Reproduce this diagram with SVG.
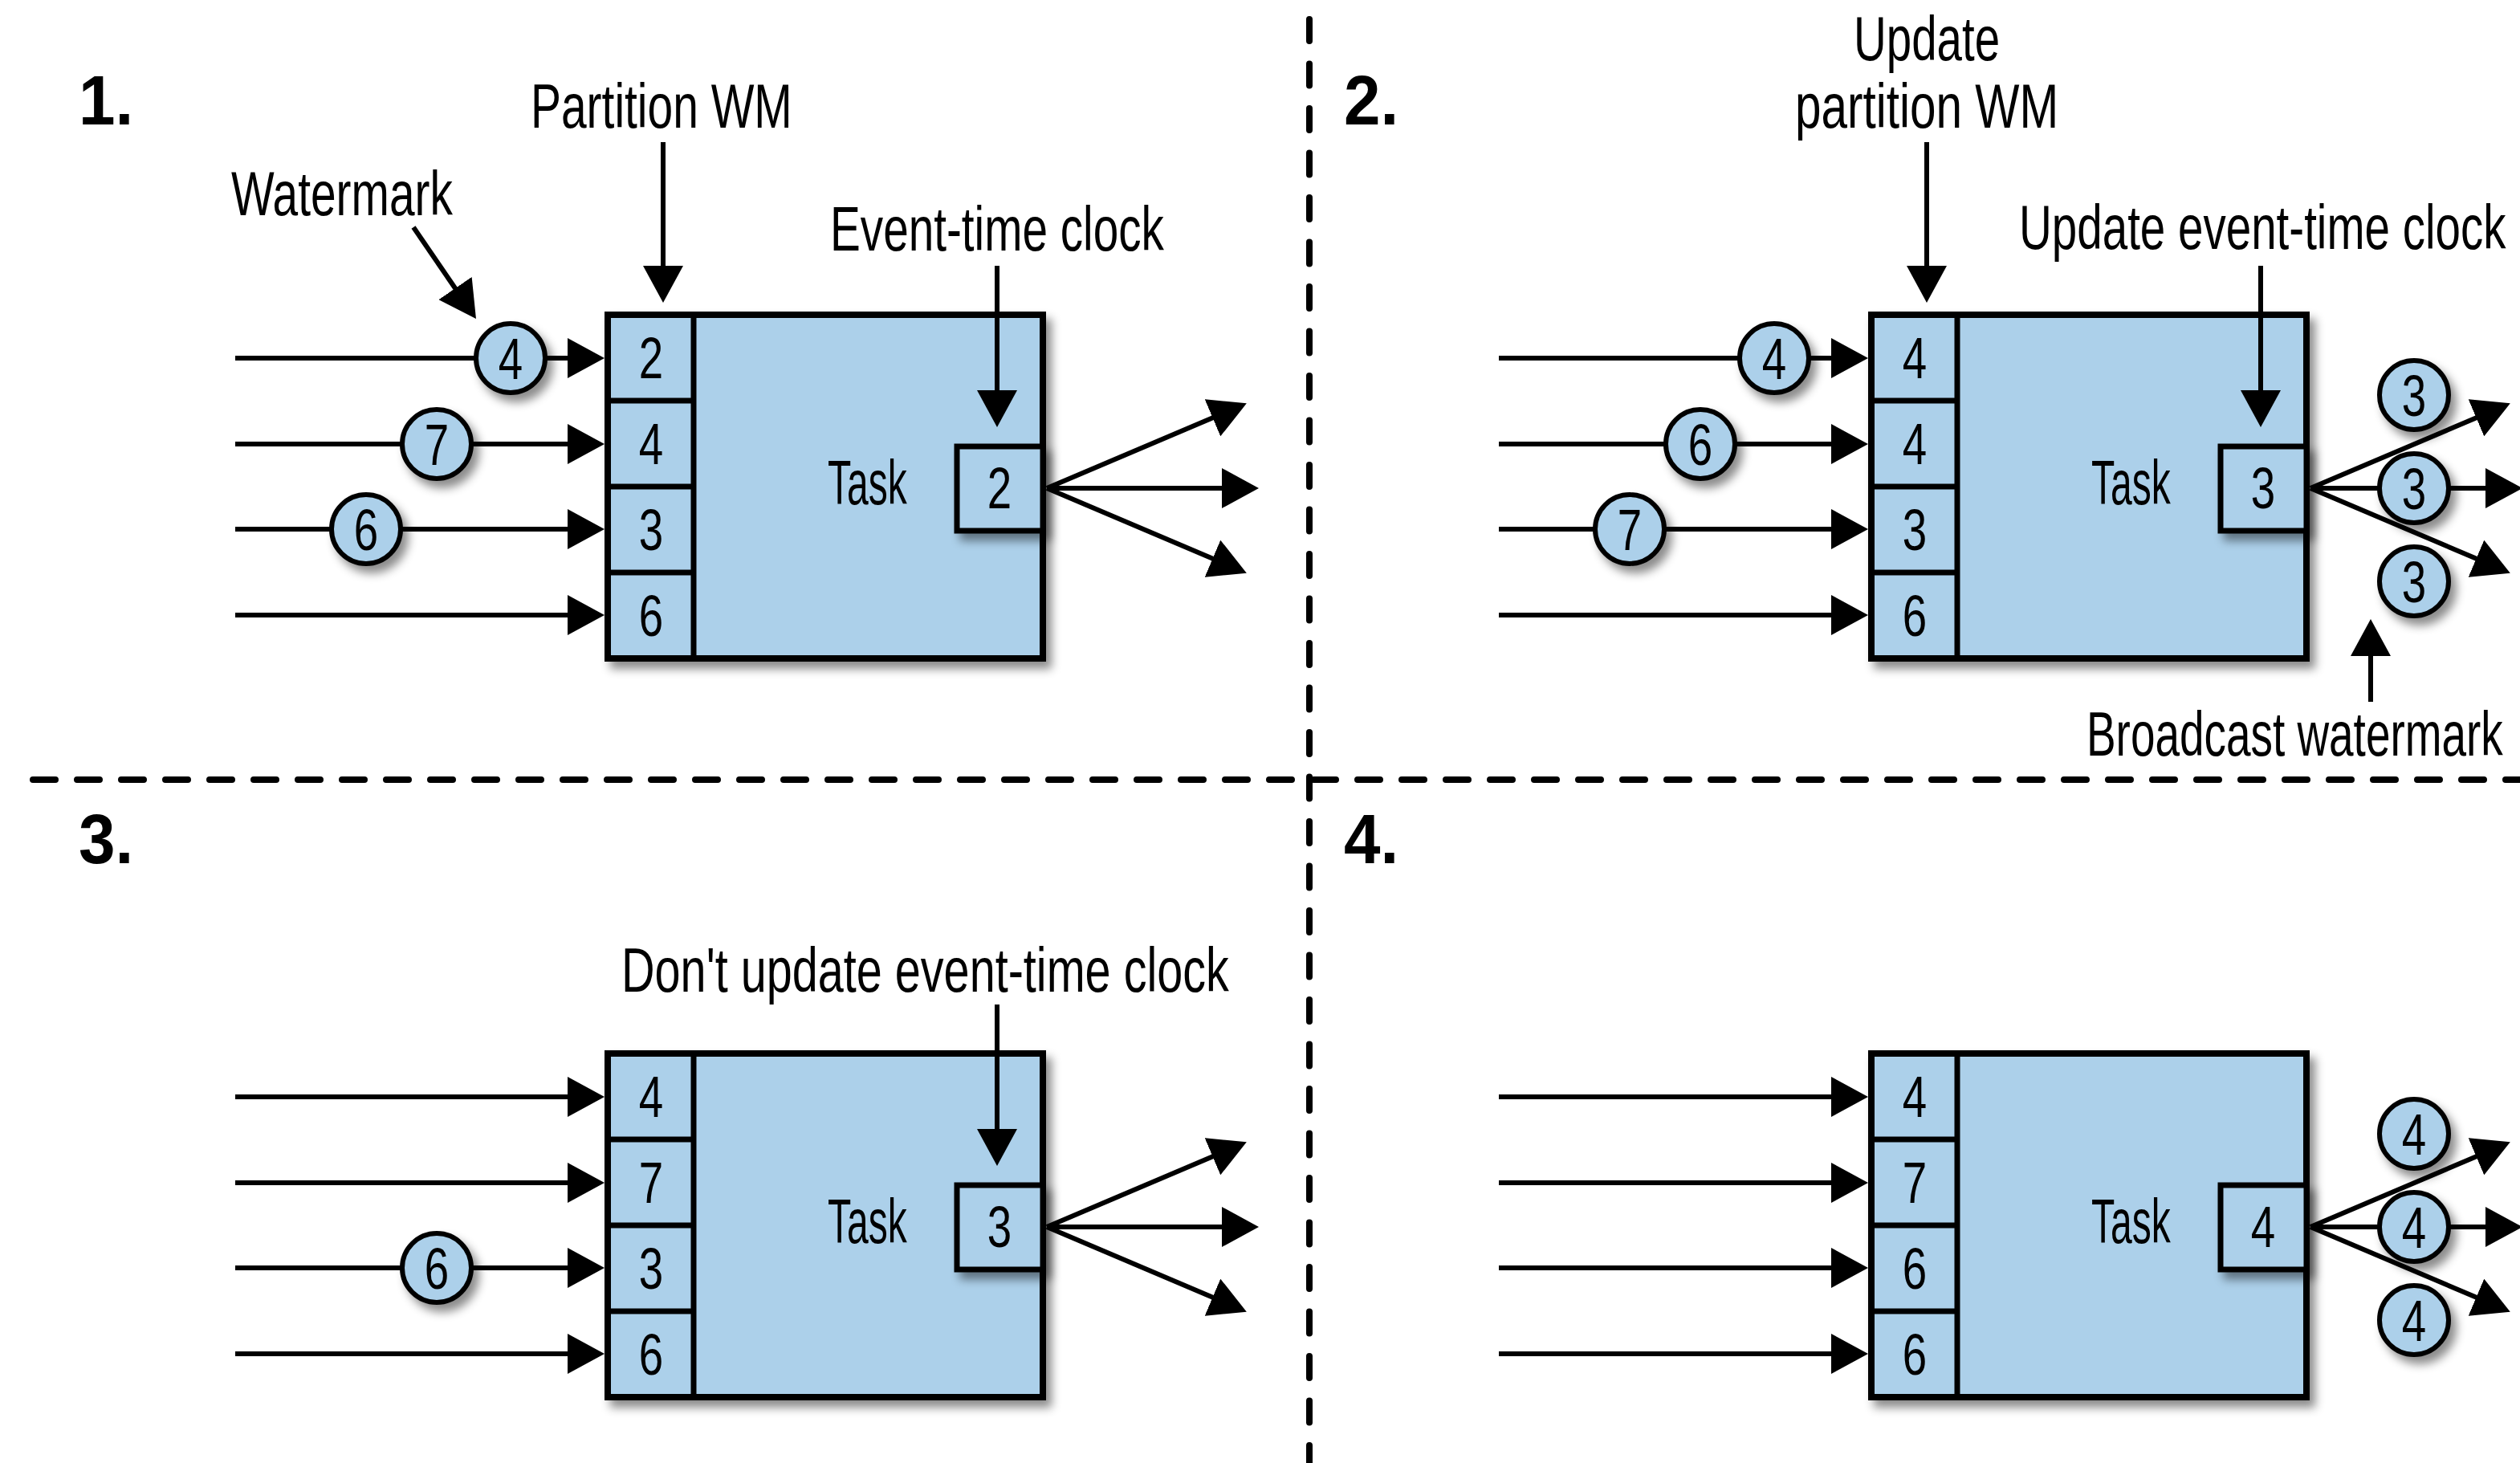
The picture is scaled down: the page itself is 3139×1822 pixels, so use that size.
<svg xmlns="http://www.w3.org/2000/svg" width="3139" height="1822" viewBox="0 0 3139 1822">
<style>
  text { font-family: "Liberation Sans", Arial, sans-serif; fill: #000; }
  .lbl { font-size: 78px; }
  .step { font-size: 88px; font-weight: bold; }
  .dig { font-size: 72px; text-anchor: middle; }
  .edge { stroke: #000; stroke-width: 6; fill: none; }
  .box { fill: #acd0ea; stroke: #000; stroke-width: 8; }
  .clk { fill: #acd0ea; stroke: #000; stroke-width: 7; }
  .div { stroke: #000; stroke-width: 7; }
  .wm circle { fill: #acd0ea; stroke: #000; stroke-width: 6; }
  .sep { stroke: #000; stroke-width: 8; stroke-linecap: round; fill: none; }
</style>
<defs>
  <marker id="ah" viewBox="0 0 46 50" refX="6" refY="25" markerWidth="46" markerHeight="50" markerUnits="userSpaceOnUse" orient="auto">
    <path d="M0,0 L46,25 L0,50 Z" fill="#000"/>
  </marker>
  <filter id="sh" x="-20%" y="-20%" width="150%" height="150%">
    <feDropShadow dx="7" dy="9" stdDeviation="6" flood-color="#000" flood-opacity="0.45"/>
  </filter>
</defs>
<rect width="3139" height="1822" fill="#fff"/>

<!-- quadrant separators -->
<g id="separators">
  <line class="sep" x1="1631" y1="24" x2="1631" y2="1822" stroke-dasharray="27 28.5"/>
  <line class="sep" x1="41" y1="971" x2="3139" y2="971" stroke-dasharray="28 27"/>
</g>

<!-- ===== Step 1 ===== -->
<g id="step1">
  <text class="step" transform="translate(98,155) scale(.93 1)">1.</text>
  <text class="lbl" transform="translate(288,268) scale(.729 1)">Watermark</text>
  <text class="lbl" transform="translate(661,159) scale(.73 1)">Partition WM</text>
  <text class="lbl" transform="translate(1034,312) scale(.727 1)">Event-time clock</text>
  <g id="s1-edges">
    <line class="edge" x1="293" y1="446" x2="713" y2="446" marker-end="url(#ah)"/>
    <line class="edge" x1="293" y1="553" x2="713" y2="553" marker-end="url(#ah)"/>
    <line class="edge" x1="293" y1="659" x2="713" y2="659" marker-end="url(#ah)"/>
    <line class="edge" x1="293" y1="766" x2="713" y2="766" marker-end="url(#ah)"/>
    <line class="edge" x1="515" y1="283" x2="570.4" y2="364" marker-end="url(#ah)"/>
    <line class="edge" x1="826" y1="177" x2="826" y2="337" marker-end="url(#ah)"/>
    <line class="edge" x1="1304" y1="608" x2="1516" y2="518" marker-end="url(#ah)"/>
    <line class="edge" x1="1304" y1="608" x2="1528" y2="608" marker-end="url(#ah)"/>
    <line class="edge" x1="1304" y1="608" x2="1516" y2="698" marker-end="url(#ah)"/>
  </g>
  <g id="s1-wm-a" class="wm"><circle cx="636" cy="446" r="43" filter="url(#sh)"/><text class="dig" transform="translate(636,472) scale(.76 1)">4</text></g>
  <g id="s1-wm-b" class="wm"><circle cx="544" cy="553" r="43" filter="url(#sh)"/><text class="dig" transform="translate(544,579) scale(.76 1)">7</text></g>
  <g id="s1-wm-c" class="wm"><circle cx="456" cy="659" r="43" filter="url(#sh)"/><text class="dig" transform="translate(456,685) scale(.76 1)">6</text></g>
  <g id="s1-task">
    <rect class="box" x="757" y="392" width="542" height="428" filter="url(#sh)"/>
    <line class="div" x1="864" y1="392" x2="864" y2="820"/>
    <line class="div" x1="757" y1="499" x2="864" y2="499"/>
    <line class="div" x1="757" y1="606" x2="864" y2="606"/>
    <line class="div" x1="757" y1="713" x2="864" y2="713"/>
    <text class="dig" transform="translate(811,471) scale(.76 1)">2</text>
    <text class="dig" transform="translate(811,578) scale(.76 1)">4</text>
    <text class="dig" transform="translate(811,685) scale(.76 1)">3</text>
    <text class="dig" transform="translate(811,792) scale(.76 1)">6</text>
    <text class="lbl" transform="translate(1031,628) scale(.615 1)">Task</text>
    <rect class="clk" x="1192" y="556" width="107" height="105" filter="url(#sh)"/>
    <text class="dig" transform="translate(1245,633) scale(.76 1)">2</text>
  </g>
  <g id="s1-clock-edge">
    <line class="edge" x1="1242" y1="331" x2="1242" y2="492" marker-end="url(#ah)"/>
  </g>
</g>

<!-- ===== Step 2 ===== -->
<g id="step2" transform="translate(1574,0)">
  <text class="step" transform="translate(100,155) scale(.93 1)">2.</text>
  <text class="lbl" transform="translate(735,75) scale(.724 1)">Update</text>
  <text class="lbl" transform="translate(662,159) scale(.75 1)">partition WM</text>
  <text class="lbl" transform="translate(941,310) scale(.725 1)">Update event-time clock</text>
  <text class="lbl" transform="translate(1025,941) scale(.704 1)">Broadcast watermark</text>
  <g id="s2-edges">
    <line class="edge" x1="293" y1="446" x2="713" y2="446" marker-end="url(#ah)"/>
    <line class="edge" x1="293" y1="553" x2="713" y2="553" marker-end="url(#ah)"/>
    <line class="edge" x1="293" y1="659" x2="713" y2="659" marker-end="url(#ah)"/>
    <line class="edge" x1="293" y1="766" x2="713" y2="766" marker-end="url(#ah)"/>
    <line class="edge" x1="826" y1="177" x2="826" y2="337" marker-end="url(#ah)"/>
    <line class="edge" x1="1379" y1="874" x2="1379" y2="811" marker-end="url(#ah)"/>
    <line class="edge" x1="1304" y1="608" x2="1528" y2="608" marker-end="url(#ah)"/>
  </g>
  <g id="s2-wm-a" class="wm"><circle cx="636" cy="446" r="43" filter="url(#sh)"/><text class="dig" transform="translate(636,472) scale(.76 1)">4</text></g>
  <g id="s2-wm-b" class="wm"><circle cx="544" cy="553" r="43" filter="url(#sh)"/><text class="dig" transform="translate(544,579) scale(.76 1)">6</text></g>
  <g id="s2-wm-c" class="wm"><circle cx="456" cy="659" r="43" filter="url(#sh)"/><text class="dig" transform="translate(456,685) scale(.76 1)">7</text></g>
  <g id="s2-task">
    <rect class="box" x="757" y="392" width="542" height="428" filter="url(#sh)"/>
    <line class="div" x1="864" y1="392" x2="864" y2="820"/>
    <line class="div" x1="757" y1="499" x2="864" y2="499"/>
    <line class="div" x1="757" y1="606" x2="864" y2="606"/>
    <line class="div" x1="757" y1="713" x2="864" y2="713"/>
    <text class="dig" transform="translate(811,471) scale(.76 1)">4</text>
    <text class="dig" transform="translate(811,578) scale(.76 1)">4</text>
    <text class="dig" transform="translate(811,685) scale(.76 1)">3</text>
    <text class="dig" transform="translate(811,792) scale(.76 1)">6</text>
    <text class="lbl" transform="translate(1031,628) scale(.615 1)">Task</text>
    <rect class="clk" x="1192" y="556" width="107" height="105" filter="url(#sh)"/>
    <text class="dig" transform="translate(1245,633) scale(.76 1)">3</text>
  </g>
  <g id="s2-out-a" class="wm"><circle cx="1433" cy="492" r="43" filter="url(#sh)"/><text class="dig" transform="translate(1433,518) scale(.76 1)">3</text></g>
  <g id="s2-out-b" class="wm"><circle cx="1433" cy="608" r="43" filter="url(#sh)"/><text class="dig" transform="translate(1433,634) scale(.76 1)">3</text></g>
  <g id="s2-out-c" class="wm"><circle cx="1433" cy="724" r="43" filter="url(#sh)"/><text class="dig" transform="translate(1433,750) scale(.76 1)">3</text></g>
  <g id="s2-edges-over">
    <line class="edge" x1="1242" y1="331" x2="1242" y2="492" marker-end="url(#ah)"/>
    <line class="edge" x1="1304" y1="608" x2="1516" y2="518" marker-end="url(#ah)"/>
    <line class="edge" x1="1304" y1="608" x2="1516" y2="698" marker-end="url(#ah)"/>
  </g>
</g>

<!-- ===== Step 3 ===== -->
<g id="step3" transform="translate(0,920)">
  <text class="step" transform="translate(98,155) scale(.93 1)">3.</text>
  <text class="lbl" transform="translate(774,315) scale(.7385 1)">Don't update event-time clock</text>
  <g id="s3-edges">
    <line class="edge" x1="293" y1="446" x2="713" y2="446" marker-end="url(#ah)"/>
    <line class="edge" x1="293" y1="553" x2="713" y2="553" marker-end="url(#ah)"/>
    <line class="edge" x1="293" y1="659" x2="713" y2="659" marker-end="url(#ah)"/>
    <line class="edge" x1="293" y1="766" x2="713" y2="766" marker-end="url(#ah)"/>
    <line class="edge" x1="1304" y1="608" x2="1516" y2="518" marker-end="url(#ah)"/>
    <line class="edge" x1="1304" y1="608" x2="1528" y2="608" marker-end="url(#ah)"/>
    <line class="edge" x1="1304" y1="608" x2="1516" y2="698" marker-end="url(#ah)"/>
  </g>
  <g id="s3-wm-a" class="wm"><circle cx="544" cy="659" r="43" filter="url(#sh)"/><text class="dig" transform="translate(544,685) scale(.76 1)">6</text></g>
  <g id="s3-task">
    <rect class="box" x="757" y="392" width="542" height="428" filter="url(#sh)"/>
    <line class="div" x1="864" y1="392" x2="864" y2="820"/>
    <line class="div" x1="757" y1="499" x2="864" y2="499"/>
    <line class="div" x1="757" y1="606" x2="864" y2="606"/>
    <line class="div" x1="757" y1="713" x2="864" y2="713"/>
    <text class="dig" transform="translate(811,471) scale(.76 1)">4</text>
    <text class="dig" transform="translate(811,578) scale(.76 1)">7</text>
    <text class="dig" transform="translate(811,685) scale(.76 1)">3</text>
    <text class="dig" transform="translate(811,792) scale(.76 1)">6</text>
    <text class="lbl" transform="translate(1031,628) scale(.615 1)">Task</text>
    <rect class="clk" x="1192" y="556" width="107" height="105" filter="url(#sh)"/>
    <text class="dig" transform="translate(1245,633) scale(.76 1)">3</text>
  </g>
  <g id="s3-clock-edge">
    <line class="edge" x1="1242" y1="331" x2="1242" y2="492" marker-end="url(#ah)"/>
  </g>
</g>

<!-- ===== Step 4 ===== -->
<g id="step4" transform="translate(1574,920)">
  <text class="step" transform="translate(100,155) scale(.93 1)">4.</text>
  <g id="s4-edges">
    <line class="edge" x1="293" y1="446" x2="713" y2="446" marker-end="url(#ah)"/>
    <line class="edge" x1="293" y1="553" x2="713" y2="553" marker-end="url(#ah)"/>
    <line class="edge" x1="293" y1="659" x2="713" y2="659" marker-end="url(#ah)"/>
    <line class="edge" x1="293" y1="766" x2="713" y2="766" marker-end="url(#ah)"/>
    <line class="edge" x1="1304" y1="608" x2="1528" y2="608" marker-end="url(#ah)"/>
  </g>
  <g id="s4-task">
    <rect class="box" x="757" y="392" width="542" height="428" filter="url(#sh)"/>
    <line class="div" x1="864" y1="392" x2="864" y2="820"/>
    <line class="div" x1="757" y1="499" x2="864" y2="499"/>
    <line class="div" x1="757" y1="606" x2="864" y2="606"/>
    <line class="div" x1="757" y1="713" x2="864" y2="713"/>
    <text class="dig" transform="translate(811,471) scale(.76 1)">4</text>
    <text class="dig" transform="translate(811,578) scale(.76 1)">7</text>
    <text class="dig" transform="translate(811,685) scale(.76 1)">6</text>
    <text class="dig" transform="translate(811,792) scale(.76 1)">6</text>
    <text class="lbl" transform="translate(1031,628) scale(.615 1)">Task</text>
    <rect class="clk" x="1192" y="556" width="107" height="105" filter="url(#sh)"/>
    <text class="dig" transform="translate(1245,633) scale(.76 1)">4</text>
  </g>
  <g id="s4-out-a" class="wm"><circle cx="1433" cy="492" r="43" filter="url(#sh)"/><text class="dig" transform="translate(1433,518) scale(.76 1)">4</text></g>
  <g id="s4-out-b" class="wm"><circle cx="1433" cy="608" r="43" filter="url(#sh)"/><text class="dig" transform="translate(1433,634) scale(.76 1)">4</text></g>
  <g id="s4-out-c" class="wm"><circle cx="1433" cy="724" r="43" filter="url(#sh)"/><text class="dig" transform="translate(1433,750) scale(.76 1)">4</text></g>
  <g id="s4-edges-over">
    <line class="edge" x1="1304" y1="608" x2="1516" y2="518" marker-end="url(#ah)"/>
    <line class="edge" x1="1304" y1="608" x2="1516" y2="698" marker-end="url(#ah)"/>
  </g>
</g>
</svg>
